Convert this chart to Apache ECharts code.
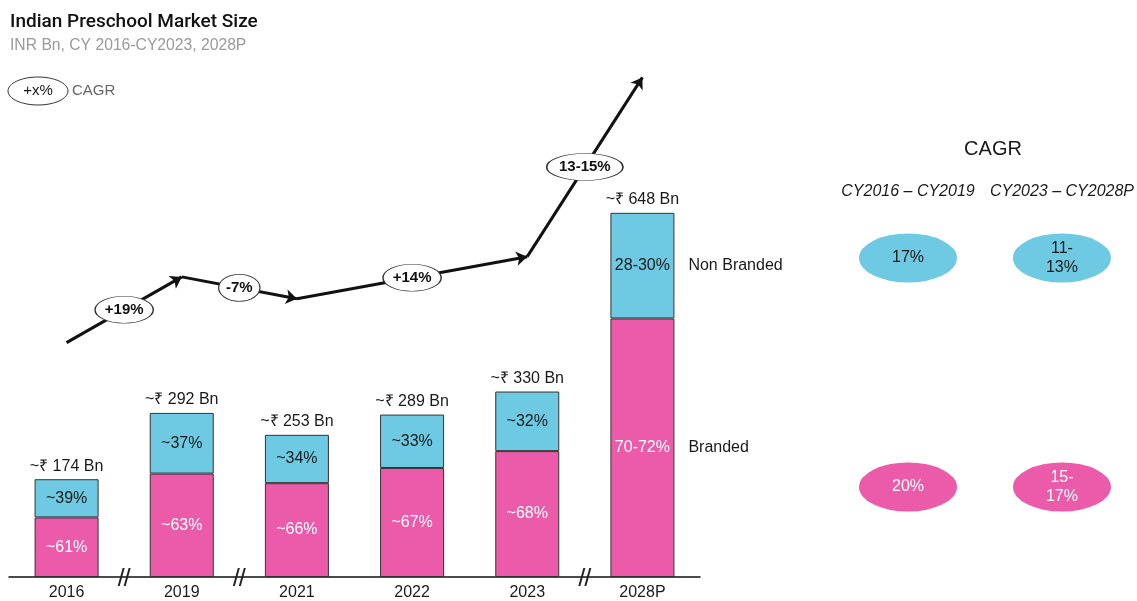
<!DOCTYPE html>
<html><head><meta charset="utf-8">
<script src="https://cdn.jsdelivr.net/npm/echarts@6/dist/echarts.min.js"></script>
<style>html,body{margin:0;padding:0;background:#fff}#c{width:1137px;height:601px}</style>
</head><body><div id="c"></div>
<script>
// ---- data ----
const categories = ['2016', '2019', '2021', '2022', '2023', '2028P'];
const totals = [174, 292, 253, 289, 330, 648];
const branded = [106, 184, 167, 194, 224, 460];
const nonBranded = [68, 108, 86, 95, 106, 188];
const brandedLabels = ['~61%', '~63%', '~66%', '~67%', '~68%', '70-72%'];
const nonBrandedLabels = ['~39%', '~37%', '~34%', '~33%', '~32%', '28-30%'];
const segmentNames = ['Branded', 'Non Branded'];
// schematic growth arrow: [category index, level on the value axis]
const trendPoints = [[0, 417], [1, 534], [2, 495], [4, 570], [5, 889]];
const trendLabels = ['+19%', '-7%', '+14%', '13-15%'];
const breakAfter = [0, 1, 4];
const cagrPeriods = ['CY2016 – CY2019', 'CY2023 – CY2028P'];
const cagrNonBranded = ['17%', '11-\n13%'];
const cagrBranded = ['20%', '15-\n17%'];

// ---- style ----
const FONT = '"Liberation Sans", Arial, sans-serif';
const PINK = '#EC5BAA';
const BLUE = '#6DCAE2';
const DARK = '#1a1a1a';

const mctx = document.createElement('canvas').getContext('2d');
function textW(t, font) { mctx.font = font; return mctx.measureText(t).width; }

const trendSegs = [];
const trendMids = [];
for (let i = 0; i < trendPoints.length - 1; i++) {
  const a = trendPoints[i], b = trendPoints[i + 1];
  trendSegs.push({ coords: [a, b] });
  const lbl = trendLabels[i];
  const w = textW(lbl, 'bold 15px ' + FONT) * 1.4 + 4;
  trendMids.push({ value: [(a[0] + b[0]) / 2, (a[1] + b[1]) / 2], name: lbl, symbolSize: [w, 27] });
}

const last = categories.length - 1;
const sideNames = [
  { value: [last, branded[last] / 2], name: segmentNames[0] },
  { value: [last, branded[last] + nonBranded[last] / 2], name: segmentNames[1] }
];

const chart = echarts.init(document.getElementById('c'), null, { renderer: 'canvas' });
chart.setOption({
  animation: false,
  backgroundColor: '#fff',
  textStyle: { fontFamily: FONT },
  title: [
    {
      text: 'Indian Preschool Market Size', left: 5, top: 8, itemGap: 6,
      textStyle: { fontFamily: 'Roboto', fontWeight: 500, fontSize: 19, color: '#111' },
      subtext: 'INR Bn, CY 2016-CY2023, 2028P',
      subtextStyle: { fontFamily: FONT, fontSize: 15.7, color: '#9a9a9a' }
    },
    {
      text: 'CAGR', left: 988, top: 134, textAlign: 'center',
      textStyle: { fontFamily: FONT, fontWeight: 'normal', fontSize: 20, color: DARK }
    }
  ],
  graphic: [
    { type: 'ellipse', shape: { cx: 38, cy: 91, rx: 30, ry: 14 }, style: { fill: '#fff', stroke: '#333', lineWidth: 1 } },
    { type: 'text', x: 38, y: 91, style: { text: '+x%', font: '15px ' + FONT, fill: DARK, align: 'center', verticalAlign: 'middle' } },
    { type: 'text', x: 72, y: 91, style: { text: 'CAGR', font: '15px ' + FONT, fill: '#666', align: 'left', verticalAlign: 'middle' } }
  ],
  grid: [
    { left: 9, right: 437, top: 15, bottom: 23 },
    { left: 908, width: 157, top: 258, height: 229 }
  ],
  xAxis: [
    {
      type: 'category', data: categories, gridIndex: 0,
      axisLine: { lineStyle: { color: '#111', width: 1.5 } },
      axisTick: { show: false },
      axisLabel: { color: DARK, fontSize: 16, margin: 8, fontFamily: FONT }
    },
    { type: 'value', gridIndex: 0, min: -0.5, max: categories.length - 0.5, show: false },
    {
      type: 'category', gridIndex: 1, data: cagrPeriods, boundaryGap: false, position: 'top',
      axisLine: { show: false }, axisTick: { show: false }, splitLine: { show: false },
      axisLabel: { interval: 0, margin: 58, fontSize: 16, fontStyle: 'italic', color: DARK, fontFamily: FONT }
    }
  ],
  yAxis: [
    { type: 'value', gridIndex: 0, min: 0, max: 1000, show: false, splitLine: { show: false } },
    { type: 'category', gridIndex: 1, data: segmentNames, boundaryGap: false, show: false }
  ],
  series: [
    {
      name: segmentNames[0], type: 'bar', stack: 'size', barWidth: 64, data: branded,
      itemStyle: { color: PINK, borderColor: '#333', borderWidth: 1 },
      label: { show: true, position: 'inside', color: '#fff', fontSize: 16, fontFamily: FONT,
        formatter: p => brandedLabels[p.dataIndex] }
    },
    {
      name: segmentNames[1], type: 'bar', stack: 'size', barWidth: 64, data: nonBranded,
      itemStyle: { color: BLUE, borderColor: '#333', borderWidth: 1 },
      label: { show: true, position: 'inside', color: DARK, fontSize: 16, fontFamily: FONT,
        formatter: p => nonBrandedLabels[p.dataIndex] }
    },
    {
      type: 'scatter', symbolSize: 0, silent: true, data: totals, itemStyle: { opacity: 1 },
      label: { show: true, position: 'top', distance: 5, color: DARK, fontSize: 16, fontFamily: FONT,
        formatter: p => '~₹ ' + totals[p.dataIndex] + ' Bn' }
    },
    {
      type: 'scatter', xAxisIndex: 1, symbolSize: 0, silent: true, data: sideNames, itemStyle: { opacity: 1 },
      label: { show: true, position: 'right', distance: 46, color: DARK, fontSize: 16, fontFamily: FONT, formatter: '{b}' }
    },
    {
      type: 'lines', coordinateSystem: 'cartesian2d', xAxisIndex: 1, yAxisIndex: 0, silent: true,
      symbol: ['none', 'arrow'], symbolSize: 11,
      lineStyle: { color: '#111', width: 3, opacity: 1 },
      data: trendSegs, z: 5
    },
    {
      type: 'scatter', xAxisIndex: 1, symbol: 'circle', silent: true, z: 6,
      itemStyle: { color: '#fff', borderColor: '#333', borderWidth: 1, opacity: 1 },
      data: trendMids,
      label: { show: true, position: 'inside', color: '#111', fontSize: 15, fontWeight: 'bold', fontFamily: FONT, formatter: '{b}' }
    },
    {
      type: 'scatter', xAxisIndex: 1, silent: true, z: 7,
      symbol: 'path://M0 18 L2 18 L7 0 L5 0 Z M6 18 L8 18 L13 0 L11 0 Z',
      symbolSize: [13, 18], itemStyle: { color: '#222', opacity: 1 },
      data: breakAfter.map(i => [i + 0.5, 0])
    },
    {
      type: 'scatter', xAxisIndex: 2, yAxisIndex: 1, symbol: 'circle', symbolSize: [98, 49], silent: true,
      itemStyle: { color: BLUE, opacity: 1 },
      data: cagrNonBranded.map((v, i) => ({ value: [i, 1], name: v })),
      label: { show: true, position: 'inside', color: DARK, fontSize: 16, lineHeight: 19, fontFamily: FONT, formatter: '{b}' }
    },
    {
      type: 'scatter', xAxisIndex: 2, yAxisIndex: 1, symbol: 'circle', symbolSize: [98, 49], silent: true,
      itemStyle: { color: PINK, opacity: 1 },
      data: cagrBranded.map((v, i) => ({ value: [i, 0], name: v })),
      label: { show: true, position: 'inside', color: '#fff', fontSize: 16, lineHeight: 19, fontFamily: FONT, formatter: '{b}' }
    }
  ]
});
</script>
</body></html>
